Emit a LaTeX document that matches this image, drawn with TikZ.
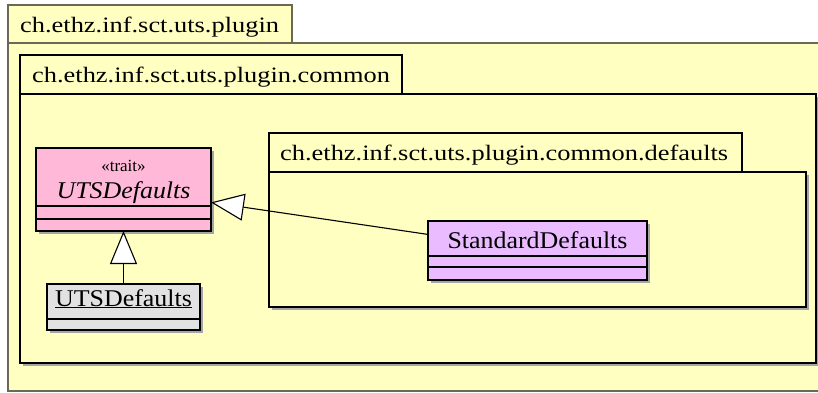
\documentclass[tikz,border=0pt]{standalone}
\usepackage{fontspec}
\setmainfont{Liberation Serif}
\newfontfamily\titlefont[FakeStretch=1.2]{Liberation Serif}
\newfontfamily\classfont[FakeStretch=1.08]{Liberation Serif}
\usetikzlibrary{arrows.meta,shadows}
\definecolor{pkgyellow}{RGB}{255,255,194}
\definecolor{traitpink}{RGB}{255,184,216}
\definecolor{objgray}{RGB}{226,226,226}
\definecolor{clspurple}{RGB}{234,188,255}
\definecolor{outerline}{RGB}{105,105,85}
\definecolor{shadowgray}{RGB}{165,165,165}
\tikzset{
  box/.style={draw=black, line width=1.1pt, inner sep=0pt, outer sep=0pt, anchor=north west},
  shadowed/.style={drop shadow={shadow xshift=3pt, shadow yshift=-3pt, fill=shadowgray, opacity=1}},
  pkgtab/.style={box, fill=pkgyellow},
  pkgbody/.style={box, fill=pkgyellow, shadowed},
  outerpkg/.style={box, draw=outerline, fill=pkgyellow},
  pkgtitle/.style={anchor=base west, inner sep=0pt, font=\titlefont\fontsize{22}{26}\selectfont},
  clsname/.style={anchor=base, inner sep=0pt, font=\classfont\fontsize{24}{28}\selectfont},
  stereo/.style={anchor=base, inner sep=0pt, font=\fontsize{17}{20}\selectfont},
  gen/.style={draw=black, line width=1.1pt, -{Triangle[length=33pt, width=27pt, fill=white]}},
}
\begin{document}
\begin{tikzpicture}[x=1pt, y=-1pt]
\useasboundingbox (0,0) rectangle (818,392);
\fill[white] (0,0) rectangle (818,392);

% outer package
\node[outerpkg, minimum width=830pt, minimum height=348pt] (outerbody) at (8,43) {};
\node[outerpkg, minimum width=284pt, minimum height=38pt] (outertab) at (8,5) {};
\node[pkgtitle] (outertitle) at (20,32) {ch.ethz.inf.sct.uts.plugin};

% common package
\node[pkgbody, minimum width=796pt, minimum height=269pt] (commonbody) at (20,94) {};
\node[pkgtab, minimum width=382pt, minimum height=39pt] (commontab) at (20,55) {};
\node[pkgtitle] (commontitle) at (32,82) {ch.ethz.inf.sct.uts.plugin.common};

% defaults package
\node[pkgbody, minimum width=537pt, minimum height=135pt] (defbody) at (269,172) {};
\node[pkgtab, minimum width=473pt, minimum height=39pt] (deftab) at (269,133) {};
\node[pkgtitle] (deftitle) at (280,160) {ch.ethz.inf.sct.uts.plugin.common.defaults};

% classes
\node[box, fill=traitpink, shadowed, minimum width=175pt, minimum height=83pt] (trait) at (36,148) {};
\draw[line width=1.1pt] (trait.west |- 0,206) -- (trait.east |- 0,206);
\draw[line width=1.1pt] (trait.west |- 0,219) -- (trait.east |- 0,219);
\node[stereo] (traitstereo) at (123.5,171) {«trait»};
\node[clsname] (traitname) at (123.5,198) {\itshape UTSDefaults};

\node[box, fill=objgray, shadowed, minimum width=153pt, minimum height=46pt] (obj) at (47,284) {};
\draw[line width=1.1pt] (obj.west |- 0,319) -- (obj.east |- 0,319);
\node[clsname] (objname) at (123.5,306) {\underline{UTSDefaults}};

\node[box, fill=clspurple, shadowed, minimum width=219pt, minimum height=59pt] (std) at (428,221) {};
\draw[line width=1.1pt] (std.west |- 0,256) -- (std.east |- 0,256);
\draw[line width=1.1pt] (std.west |- 0,267) -- (std.east |- 0,267);
\node[clsname] (stdname) at (537.5,248) {StandardDefaults};

% generalizations
\draw[gen] (obj.north) -- (trait.south);
\draw[gen] (std) -- (trait);
\end{tikzpicture}
\end{document}
